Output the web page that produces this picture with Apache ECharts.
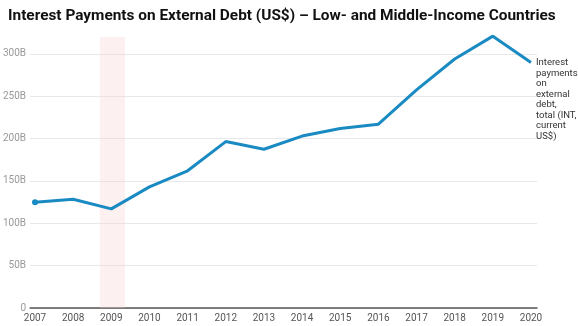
<!DOCTYPE html>
<html><head><meta charset="utf-8">
<script src="https://cdn.jsdelivr.net/npm/echarts@6/dist/echarts.min.js"></script>
<style>html,body{margin:0;padding:0;background:#fff}#c{width:578px;height:326px}</style>
</head><body><div id="c"></div>
<script>
var titleText = 'Interest Payments on External Debt (US$) \u2013 Low- and Middle-Income Countries';
var seriesName = 'Interest payments on external debt, total (INT, current US$)';
var seriesLabelLines = ['Interest', 'payments', 'on', 'external', 'debt,', 'total (INT,', 'current', 'US$)'];
var years = [2007, 2008, 2009, 2010, 2011, 2012, 2013, 2014, 2015, 2016, 2017, 2018, 2019, 2020];
var valuesB = [125, 128.5, 117, 143, 162, 196.5, 187.5, 203, 212, 217, 257.5, 294, 321, 290];
var recessionBand = [2008.7, 2009.36];
var yTicks = [0, 50, 100, 150, 200, 250, 300];

var chart = echarts.init(document.getElementById('c'));
var data = years.map(function (y, i) {
  var d = { value: [y, valuesB[i]] };
  if (i === 0) { d.symbol = 'circle'; d.symbolSize = 6; }
  return d;
});
chart.setOption({
  animation: false,
  textStyle: { fontFamily: 'Roboto' },
  title: {
    text: titleText, left: 3, top: 4,
    textStyle: { fontFamily: 'Roboto', fontSize: 15.4, fontWeight: 'bold', color: '#111' }
  },
  grid: [
    { left: 28, right: 41, top: 37, bottom: 18 },
    { left: 35, right: 47, top: 37, bottom: 18 }
  ],
  xAxis: [
    { gridIndex: 0, type: 'value', min: 0, max: 1, show: true,
      axisLine: { show: true, onZero: false, lineStyle: { color: '#555', width: 1.5 } },
      axisTick: { show: false }, axisLabel: { show: false }, splitLine: { show: false } },
    { gridIndex: 1, type: 'value', min: years[0], max: years[years.length - 1], interval: 1,
      axisLine: { show: false }, axisTick: { show: false }, splitLine: { show: false },
      axisLabel: { color: '#555', fontSize: 10, margin: 5, formatter: function (v) { return String(v); } } }
  ],
  yAxis: [
    { gridIndex: 0, type: 'value', min: 0, max: 320, interval: 50,
      axisLine: { show: false }, axisTick: { show: false },
      axisLabel: { color: '#999', fontSize: 10, margin: 4,
        formatter: function (v) { return yTicks.indexOf(v) < 0 ? '' : (v === 0 ? '0' : v + 'B'); } },
      splitLine: { lineStyle: { color: ['#e8e8e8', '#e8e8e8', '#e8e8e8', '#e8e8e8', '#e8e8e8', '#e8e8e8', '#e8e8e8', 'rgba(0,0,0,0)'], width: 1 } } },
    { gridIndex: 1, type: 'value', min: 0, max: 320, show: false, splitLine: { show: false } }
  ],
  series: [{
    name: seriesName,
    type: 'line', xAxisIndex: 1, yAxisIndex: 1,
    data: data,
    clip: false,
    symbol: 'none',
    showSymbol: true,
    lineStyle: { color: '#1a8ac2', width: 3 },
    itemStyle: { color: '#1a8ac2' },
    markArea: {
      silent: true,
      itemStyle: { color: 'rgba(245,205,205,0.3)' },
      data: [[{ xAxis: recessionBand[0] }, { xAxis: recessionBand[1] }]]
    },
    endLabel: {
      show: true,
      formatter: function () { return seriesLabelLines.join('\n'); },
      color: '#333', fontSize: 9.5, lineHeight: 10.5,
      align: 'left', verticalAlign: 'top', distance: 5, offset: [0, -5]
    }
  }]
});
</script></body></html>
